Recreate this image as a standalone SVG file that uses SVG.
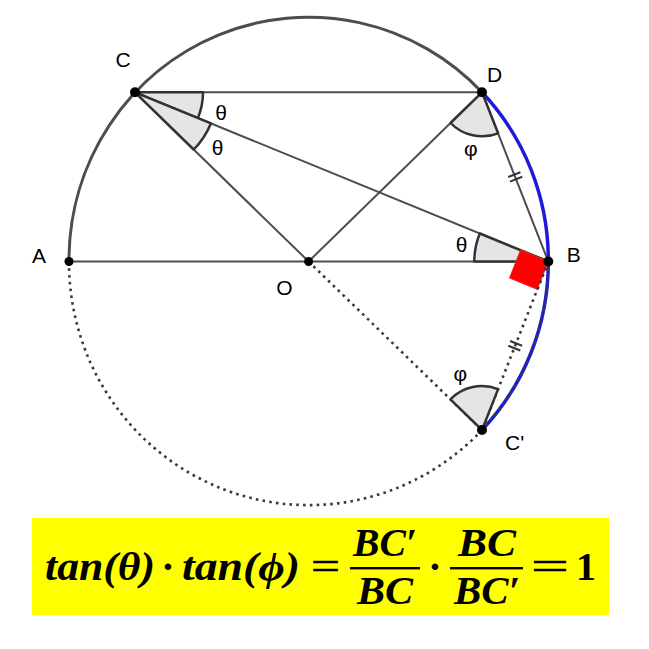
<svg xmlns="http://www.w3.org/2000/svg" width="649" height="649" viewBox="0 0 649 649">
<style>
.ln{stroke:#4d4d4d;stroke-width:2;fill:none;stroke-linecap:round}
.dot{stroke:#3a3a3a;stroke-width:2.6;fill:none;stroke-dasharray:2.6 4.2}
.arc{stroke:#4d4d4d;stroke-width:3;fill:none}
.blue{stroke:#1c1cd8;stroke-width:3.5;fill:none}
.ang{fill:#e5e5e5;stroke:#333;stroke-width:2.5;stroke-linejoin:round}
.tick{stroke:#333;stroke-width:2}
.pt{fill:#000}
.lbl{font-family:"Liberation Sans",Arial,sans-serif;font-size:21px;fill:#000}
.fm{font-family:"Liberation Serif","DejaVu Serif",serif;font-style:italic;font-weight:bold;font-size:40px;fill:#000}
.fu{font-family:"Liberation Serif","DejaVu Serif",serif;font-weight:bold;font-size:40px;fill:#000}
.eq{font-family:"Liberation Serif","DejaVu Serif",serif;font-size:40px;fill:#000;stroke:#000;stroke-width:0.6}
</style>
<rect width="649" height="649" fill="#fff"/>
<g id="circle">
<path class="arc" d="M69 261.5 A239.7 243 0 0 1 482 92.3"/>
<path class="blue" d="M482 92.3 A239.7 243 0 0 1 548.3 261.5"/>
<path class="blue" d="M548.3 261.5 A239.7 243 0 0 1 482 430"/>
<path class="dot" d="M548.3 261.5 A239.7 243 0 0 1 482 430"/>
<path class="dot" d="M482 430 A239.7 243 0 0 1 69 261.5"/>
</g>
<g id="connectors">
<line class="ln" x1="135" y1="92.3" x2="482" y2="92.3"/>
<line class="ln" x1="135" y1="92.3" x2="308.6" y2="261.5"/>
<line class="ln" x1="482" y1="92.3" x2="308.6" y2="261.5"/>
<line class="ln" x1="69" y1="261.5" x2="548.3" y2="261.5"/>
<line class="ln" x1="135" y1="92.3" x2="548.3" y2="261.5"/>
<line class="ln" x1="482" y1="92.3" x2="548.3" y2="261.5"/>
<line class="dot" x1="308.6" y1="261.5" x2="482" y2="430"/>
<line class="dot" x1="548.3" y1="261.5" x2="482" y2="430"/>
<line class="tick" x1="520.4" y1="172.2" x2="508.2" y2="177"/>
<line class="tick" x1="522.2" y1="176.8" x2="510" y2="181.6"/>
<line class="tick" x1="520.3" y1="350.5" x2="508.3" y2="345.7"/>
<line class="tick" x1="522.1" y1="345.8" x2="510.1" y2="341"/>
</g>
<g id="angles">
<path class="ang" d="M135 92.3 L203 92.3 A68 68 0 0 1 197.9 118.1 Z"/>
<path class="ang" d="M135 92.3 L210.9 123.4 A82 82 0 0 1 193.7 149.5 Z"/>
<path class="ang" d="M482 92.3 L498.1 133.3 A44 44 0 0 1 450.5 123 Z"/>
<path class="ang" d="M548.3 261.5 L474.3 261.5 A74 74 0 0 1 479.8 233.5 Z"/>
<path class="ang" d="M482 430 L450.4 399.3 A44 44 0 0 1 498.1 389.1 Z"/>
<polygon points="548.3,261.5 520.5,250.1 509.5,278 537.3,289.4" fill="#ff0000" stroke="#ff2020" stroke-width="1"/>
<line class="dot" x1="548.3" y1="261.5" x2="537.3" y2="289.4"/>
<text class="lbl" x="221" y="120" text-anchor="middle">θ</text>
<text class="lbl" x="217.5" y="155" text-anchor="middle">θ</text>
<text class="lbl" x="461.5" y="251.7" text-anchor="middle">θ</text>
<text class="lbl" x="470.8" y="155.5" text-anchor="middle">φ</text>
<text class="lbl" x="460.3" y="381" text-anchor="middle">φ</text>
</g>
<g id="A"><circle class="pt" cx="69" cy="261.5" r="4.5"/><text class="lbl" x="39" y="263" text-anchor="middle">A</text></g>
<g id="B"><circle class="pt" cx="548.3" cy="261.5" r="5"/><text class="lbl" x="573.7" y="261.7" text-anchor="middle">B</text></g>
<g id="C"><circle class="pt" cx="135" cy="92.3" r="5"/><text class="lbl" x="123" y="67" text-anchor="middle">C</text></g>
<g id="D"><circle class="pt" cx="482" cy="92.3" r="5"/><text class="lbl" x="494.5" y="81.7" text-anchor="middle">D</text></g>
<g id="O"><circle class="pt" cx="308.6" cy="261.5" r="4.5"/><text class="lbl" x="284.5" y="295" text-anchor="middle">O</text></g>
<g id="Cprime"><circle class="pt" cx="482" cy="430" r="5"/><text class="lbl" x="505" y="449.5">C'</text></g>
<g id="formula">
<rect x="32" y="518" width="577" height="97" fill="#ffff00"/>
<text class="fm" x="45" y="580" textLength="110" lengthAdjust="spacingAndGlyphs">tan(θ)</text>
<text class="fu" x="168" y="580" text-anchor="middle">·</text>
<text class="fm" x="182" y="580" textLength="118" lengthAdjust="spacingAndGlyphs">tan(ϕ)</text>
<text class="eq" x="311" y="580" textLength="29" lengthAdjust="spacingAndGlyphs">=</text>
<text class="fm" x="353" y="556" textLength="64" lengthAdjust="spacingAndGlyphs">BC′</text>
<rect x="350" y="567" width="70" height="2.4" fill="#000"/>
<text class="fm" x="357" y="604" textLength="56" lengthAdjust="spacingAndGlyphs">BC</text>
<text class="fu" x="435" y="580" text-anchor="middle">·</text>
<text class="fm" x="458" y="556" textLength="58" lengthAdjust="spacingAndGlyphs">BC</text>
<rect x="450" y="567" width="73" height="2.4" fill="#000"/>
<text class="fm" x="454" y="604" textLength="66" lengthAdjust="spacingAndGlyphs">BC′</text>
<text class="eq" x="531" y="580" textLength="38" lengthAdjust="spacingAndGlyphs">=</text>
<text class="fu" x="586" y="580" text-anchor="middle">1</text>
</g>
</svg>
